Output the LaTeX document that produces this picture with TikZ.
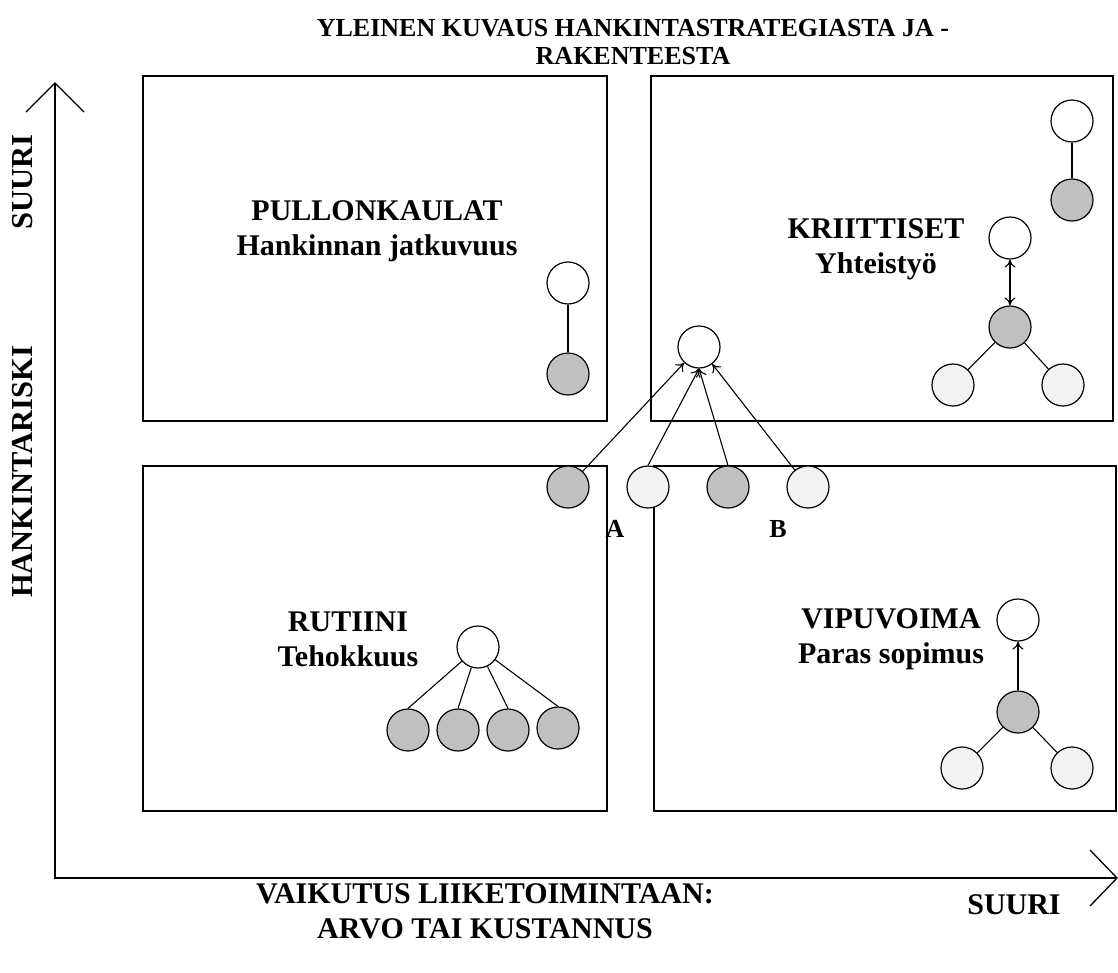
\documentclass[tikz,border=0pt]{standalone}
\usepackage{fontspec}
\setmainfont{Liberation Serif}
\usetikzlibrary{arrows.meta}
\definecolor{darkc}{HTML}{C0C0C0}
\definecolor{lightc}{HTML}{F2F2F2}
\tikzset{
  quad/.style={draw=black, line width=1.4pt},
  dot/.style={circle, draw=black, line width=1.2pt, minimum size=42pt, inner sep=0pt},
  whitedot/.style={dot, fill=white},
  darkdot/.style={dot, fill=darkc},
  lightdot/.style={dot, fill=lightc},
  link/.style={draw=black, line width=1.1pt},
  arr/.style={link, -{To[length=8pt,width=11pt]}},
  darr/.style={link, {To[length=8pt,width=11pt]}-{To[length=8pt,width=11pt]}},
  big/.style={font=\fontsize{30}{35}\selectfont\bfseries, align=center, inner sep=0pt},
  axl/.style={font=\fontsize{30.5}{34}\selectfont\bfseries, inner sep=0pt},
  ttl/.style={font=\fontsize{26}{27.5}\selectfont\bfseries, align=center, inner sep=0pt},
  lab/.style={font=\fontsize{26}{28}\selectfont\bfseries, inner sep=0pt},
}
\begin{document}
\begin{tikzpicture}[x=1pt, y=-1pt, line width=1.2pt]
\useasboundingbox (0,0) rectangle (1118,972);

% title
\node[ttl] (title) at (633,42) {YLEINEN KUVAUS HANKINTASTRATEGIASTA JA -\\RAKENTEESTA};

% axes
\coordinate (orig) at (55,878);
\coordinate (ytop) at (55,83);
\coordinate (yl) at (26,112);
\coordinate (yr) at (84,112);
\coordinate (xend) at (1117,878);
\coordinate (xu) at (1090,850);
\coordinate (xd) at (1090,906);
\draw[line width=1.3pt] (ytop) -- (orig) -- (xend);
\draw[line width=1.3pt] (yl) -- (ytop) -- (yr);
\draw[line width=1.3pt] (xu) -- (xend) -- (xd);

% axis labels
\node[axl, rotate=90] (suuriy) at (23,182) {SUURI};
\node[axl, rotate=90] (riski) at (23,472) {HANKINTARISKI};
\node[big] (vaik) at (485,911) {VAIKUTUS LIIKETOIMINTAAN:\\ARVO TAI KUSTANNUS};
\node[big] (suurix) at (1014,905) {SUURI};

% quadrant boxes
\draw[quad] (143,76) rectangle (607,421);
\draw[quad] (651,76) rectangle (1113,421);
\draw[quad] (143,466) rectangle (607,811);
\draw[quad] (654,466) rectangle (1116,811);

% quadrant labels
\node[big] (pull) at (377,231) {PULLONKAULAT\\Hankinnan jatkuvuus};
\node[big] (krit) at (876,249) {KRIITTISET\\Yhteistyö};
\node[big] (rut) at (348,639) {RUTIINI\\Tehokkuus};
\node[big] (vip) at (891,639) {VIPUVOIMA\\Paras sopimus};

% top-left
\node[whitedot] (pw) at (568,283) {};
\node[darkdot] (pd) at (568,374) {};
\draw[link] (pw) -- (pd);

% top-right
\node[whitedot] (kw1) at (1072,121) {};
\node[darkdot] (kd1) at (1072,200) {};
\draw[link] (kw1) -- (kd1);
\node[whitedot] (kw2) at (1010,238) {};
\node[darkdot] (kd2) at (1010,327) {};
\node[lightdot] (kl1) at (953,385) {};
\node[lightdot] (kl2) at (1063,385) {};
\draw[darr] (kd2) -- (kw2);
\draw[link] (kd2) -- (kl1);
\draw[link] (kd2) -- (kl2);

% bottom-left
\node[whitedot] (rw) at (478,647) {};
\node[darkdot] (r1) at (408,730) {};
\node[darkdot] (r2) at (458,730) {};
\node[darkdot] (r3) at (508,730) {};
\node[darkdot] (r4) at (558,728) {};
\foreach \n in {r1,r2,r3,r4} \draw[link] (rw) -- (\n.north);

% bottom-right
\node[whitedot] (vw) at (1018,620) {};
\node[darkdot] (vd) at (1018,712) {};
\node[lightdot] (vl1) at (962,768) {};
\node[lightdot] (vl2) at (1072,768) {};
\draw[arr] (vd) -- (vw);
\draw[link] (vd) -- (vl1);
\draw[link] (vd) -- (vl2);

% central cluster
\node[whitedot] (hub) at (699,347) {};
\node[darkdot] (c1) at (568,487) {};
\node[lightdot] (c2) at (648,487) {};
\node[darkdot] (c3) at (728,487) {};
\node[lightdot] (c4) at (808,487) {};
\draw[arr] (c1) -- (hub);
\draw[arr] (c2.north) -- (hub.south);
\draw[arr] (c3.north) -- (hub.south);
\draw[arr] (c4) -- (hub);

\node[lab] (la) at (615,529) {A};
\node[lab] (lb) at (778,529) {B};
\end{tikzpicture}
\end{document}
